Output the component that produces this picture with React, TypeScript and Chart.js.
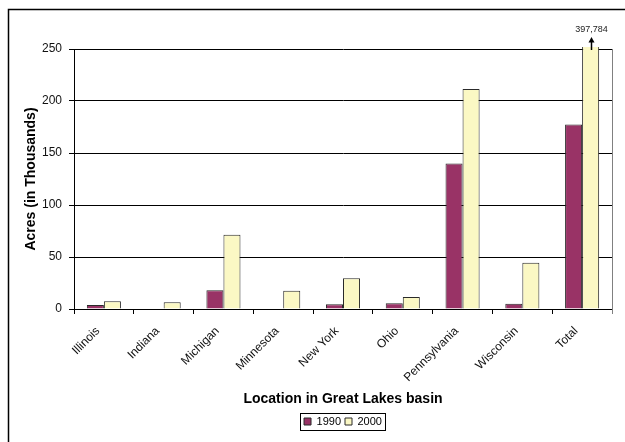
import React, { useEffect, useRef } from 'react';
import { Chart, registerables } from 'chart.js';

Chart.register(...registerables);

const categories = ['Illinois', 'Indiana', 'Michigan', 'Minnesota', 'New York', 'Ohio', 'Pennsylvania', 'Wisconsin', 'Total'];
const seriesNames = ['1990', '2000'];
const values1990: (number | null)[] = [3.8, null, 18, null, 4.5, 5.5, 140, 5, 177.5];
const values2000: (number | null)[] = [7.5, 6.5, 71.5, 17.5, 29.5, 11.5, 211.5, 44.5, 397.784];
const yMin = 0;
const yMax = 250;
const yStep = 50;
const xTitle = 'Location in Great Lakes basin';
const yTitle = 'Acres (in Thousands)';

const FONT = "'Liberation Sans', Arial, Helvetica, sans-serif";

export default function App() {
  const ref = useRef<HTMLCanvasElement>(null);

  useEffect(() => {
    const canvas = ref.current;
    if (!canvas) return;

    const decorPlugin = {
      id: 'decor',
      beforeDraw(chart: any) {
        const { ctx } = chart;
        ctx.save();
        ctx.fillStyle = '#ffffff';
        ctx.fillRect(0, 0, chart.width, chart.height);
        ctx.strokeStyle = '#000';
        ctx.lineWidth = 1.5;
        ctx.strokeRect(8.5, 9.5, 800, 800);
        ctx.restore();
      },
      afterDatasetsDraw(chart: any) {
        const { ctx, chartArea } = chart;
        // right border of plot area
        ctx.save();
        ctx.strokeStyle = '#808080';
        ctx.lineWidth = 1;
        ctx.beginPath();
        ctx.moveTo(Math.round(chartArea.right) + 0.5, chartArea.top);
        ctx.lineTo(Math.round(chartArea.right) + 0.5, chartArea.bottom + 5);
        ctx.stroke();
        ctx.restore();

        // arrow + value for bars exceeding the axis
        const meta = chart.getDatasetMeta(1);
        values2000.forEach((v, i) => {
          if (v == null || v <= yMax) return;
          const el: any = meta.data[i];
          const x = Math.round(el.x) + 0.5;
          const top = chartArea.top;
          ctx.save();
          ctx.strokeStyle = '#000';
          ctx.fillStyle = '#000';
          ctx.lineWidth = 1.5;
          ctx.beginPath();
          ctx.moveTo(x, top + 1);
          ctx.lineTo(x, top - 7);
          ctx.stroke();
          ctx.beginPath();
          ctx.moveTo(x, top - 12);
          ctx.lineTo(x - 3, top - 6.5);
          ctx.lineTo(x + 3, top - 6.5);
          ctx.closePath();
          ctx.fill();
          ctx.font = `9px ${FONT}`;
          ctx.fillStyle = '#222';
          ctx.textAlign = 'center';
          ctx.textBaseline = 'middle';
          ctx.fillText(Math.round(v * 1000).toLocaleString('en-US'), x, top - 19);
          ctx.restore();
        });
      },
      afterDraw(chart: any) {
        const lg = chart.legend;
        if (!lg || !lg.legendHitBoxes || !lg.legendHitBoxes.length) return;
        const hb = lg.legendHitBoxes;
        let l = Infinity, r = -Infinity, t = Infinity, b = -Infinity;
        hb.forEach((h: any) => {
          l = Math.min(l, h.left);
          r = Math.max(r, h.left + h.width);
          t = Math.min(t, h.top);
          b = Math.max(b, h.top + h.height);
        });
        const { ctx } = chart;
        ctx.save();
        ctx.strokeStyle = '#000';
        ctx.lineWidth = 1;
        ctx.strokeRect(Math.round(l - 4) + 0.5, Math.round(t - 3) + 0.5, Math.round(r - l + 7), Math.round(b - t + 6));
        ctx.restore();
      },
    };

    const chart = new Chart(canvas, {
      type: 'bar',
      data: {
        labels: categories,
        datasets: [
          {
            label: seriesNames[0],
            data: values1990,
            backgroundColor: '#993366',
            borderColor: '#2a2a2a',
            borderWidth: 1,
            categoryPercentage: 0.57,
            barPercentage: 1,
          },
          {
            label: seriesNames[1],
            data: values2000,
            backgroundColor: '#FBF8C4',
            borderColor: '#2a2a2a',
            borderWidth: 1,
            categoryPercentage: 0.57,
            barPercentage: 1,
            clip: { left: 10, top: 2, right: 10, bottom: 10 },
          },
        ],
      } as any,
      options: {
        responsive: false,
        animation: false,
        events: [],
        font: { family: FONT },
        layout: { padding: { left: 0, right: 13, top: 49, bottom: 5 } },
        plugins: {
          tooltip: { enabled: false },
          title: { display: false },
          legend: {
            display: true,
            position: 'bottom',
            fullSize: false,
            labels: {
              font: { family: FONT, size: 11 },
              color: '#000',
              boxWidth: 7,
              boxHeight: 7,
              padding: 4,
            },
          },
        },
        scales: {
          x: {
            offset: true,
            grid: {
              display: true,
              offset: true,
              drawOnChartArea: false,
              drawTicks: true,
              tickLength: 5,
              color: '#000',
            },
            border: { display: true, color: '#000', width: 1 },
            ticks: {
              font: { family: FONT, size: 12 },
              color: '#111',
              maxRotation: 45,
              minRotation: 45,
              padding: 10,
              labelOffset: -6,
              autoSkip: false,
            },
            title: {
              display: true,
              text: xTitle,
              font: { family: FONT, size: 14, weight: 'bold' },
              color: '#000',
              padding: { top: 0, bottom: 4 },
            },
            afterFit: (s: any) => {
              s.height = 103;
            },
          },
          y: {
            min: yMin,
            max: yMax,
            grid: {
              display: true,
              color: '#000',
              lineWidth: 1,
              drawTicks: true,
              tickLength: 5,
            },
            border: { display: true, color: '#000', width: 1 },
            ticks: {
              stepSize: yStep,
              font: { family: FONT, size: 12 },
              color: '#111',
              padding: 7,
            },
            title: {
              display: true,
              text: yTitle,
              font: { family: FONT, size: 14, weight: 'bold' },
              color: '#000',
              padding: { top: 23, bottom: 0 },
            },
            afterFit: (s: any) => {
              s.width = 74;
            },
          },
        },
      } as any,
      plugins: [decorPlugin],
    });

    return () => chart.destroy();
  }, []);

  return (
    <canvas
      ref={ref}
      width={625}
      height={442}
      style={{ position: 'absolute', left: 0, top: 0, display: 'block', width: 625, height: 442 }}
    />
  );
}
